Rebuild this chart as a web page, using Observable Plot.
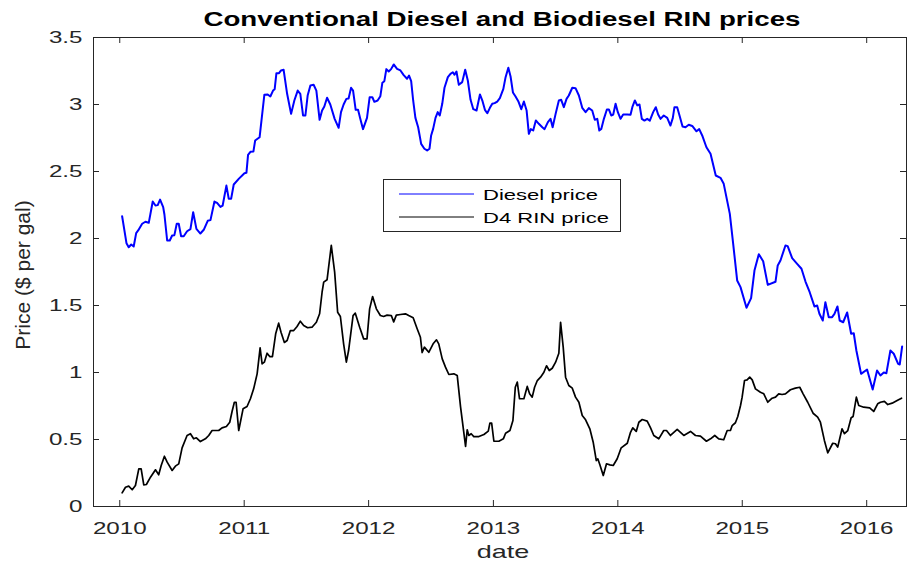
<!DOCTYPE html>
<html>
<head>
<meta charset="utf-8">
<script src="https://cdn.jsdelivr.net/npm/d3@7"></script>
<script src="https://cdn.jsdelivr.net/npm/@observablehq/plot@0.6"></script>
<style>
  html, body { margin: 0; padding: 0; background: #fff; }
  svg { display: block; }
</style>
</head>
<body>
<div id="chart"></div>
<script>
// ---- Data ----
const titleText = "Conventional Diesel and Biodiesel RIN prices";
const xLabel = "date";
const yLabel = "Price ($ per gal)";
const seriesNames = ["Diesel price", "D4 RIN price"];
const yearTicks = [2010, 2011, 2012, 2013, 2014, 2015, 2016];
const priceTicks = [0, 0.5, 1, 1.5, 2, 2.5, 3, 3.5];
const xDomainYears = [2009.789, 2016.319];

const dieselYear = [2010.019,2010.054,2010.072,2010.092,2010.112,2010.132,2010.148,2010.180,2010.206,2010.233,2010.265,2010.287,2010.305,2010.324,2010.349,2010.359,2010.381,2010.402,2010.421,2010.439,2010.458,2010.474,2010.493,2010.514,2010.541,2010.568,2010.590,2010.616,2010.648,2010.675,2010.707,2010.729,2010.761,2010.782,2010.809,2010.827,2010.857,2010.876,2010.895,2010.916,2010.956,2011.002,2011.018,2011.031,2011.050,2011.074,2011.088,2011.124,2011.162,2011.189,2011.210,2011.232,2011.245,2011.259,2011.280,2011.296,2011.317,2011.345,2011.377,2011.403,2011.430,2011.451,2011.473,2011.492,2011.510,2011.532,2011.558,2011.580,2011.606,2011.626,2011.644,2011.666,2011.692,2011.727,2011.759,2011.778,2011.799,2011.821,2011.839,2011.859,2011.875,2011.896,2011.915,2011.933,2011.955,2011.987,2012.008,2012.030,2012.046,2012.072,2012.094,2012.110,2012.126,2012.142,2012.161,2012.180,2012.201,2012.228,2012.255,2012.281,2012.308,2012.324,2012.341,2012.357,2012.375,2012.397,2012.421,2012.447,2012.469,2012.488,2012.501,2012.517,2012.536,2012.554,2012.570,2012.590,2012.608,2012.635,2012.656,2012.675,2012.688,2012.704,2012.723,2012.750,2012.774,2012.795,2012.817,2012.839,2012.865,2012.892,2012.913,2012.932,2012.951,2012.972,2012.991,2013.010,2013.031,2013.052,2013.080,2013.098,2013.120,2013.138,2013.157,2013.178,2013.200,2013.224,2013.245,2013.267,2013.285,2013.301,2013.320,2013.341,2013.365,2013.393,2013.411,2013.438,2013.459,2013.476,2013.500,2013.526,2013.545,2013.566,2013.588,2013.606,2013.634,2013.660,2013.687,2013.714,2013.741,2013.767,2013.794,2013.815,2013.835,2013.851,2013.867,2013.888,2013.912,2013.928,2013.947,2013.963,2013.982,2014.000,2014.022,2014.043,2014.076,2014.102,2014.118,2014.137,2014.156,2014.174,2014.193,2014.214,2014.236,2014.257,2014.284,2014.305,2014.324,2014.343,2014.369,2014.397,2014.423,2014.442,2014.455,2014.477,2014.498,2014.520,2014.544,2014.570,2014.598,2014.632,2014.654,2014.678,2014.712,2014.745,2014.787,2014.825,2014.851,2014.900,2014.927,2014.959,2014.986,2015.034,2015.071,2015.098,2015.133,2015.168,2015.205,2015.267,2015.285,2015.307,2015.347,2015.365,2015.401,2015.441,2015.476,2015.508,2015.542,2015.580,2015.602,2015.620,2015.647,2015.668,2015.695,2015.722,2015.741,2015.765,2015.783,2015.811,2015.843,2015.875,2015.896,2015.917,2015.955,2016.003,2016.048,2016.083,2016.110,2016.137,2016.158,2016.190,2016.217,2016.252,2016.265,2016.284];
const dieselPrice = [2.166,1.965,1.935,1.955,1.94,2.04,2.06,2.11,2.125,2.117,2.276,2.246,2.249,2.29,2.234,2.179,1.985,1.985,2.022,2.025,2.11,2.11,2.017,2.017,2.054,2.07,2.196,2.072,2.037,2.065,2.132,2.137,2.276,2.266,2.236,2.246,2.395,2.296,2.296,2.403,2.445,2.487,2.49,2.624,2.647,2.649,2.731,2.756,3.072,3.075,3.06,3.104,3.114,3.234,3.234,3.254,3.259,3.08,2.93,3.03,3.104,3.08,2.918,2.918,3.067,3.142,3.147,3.104,2.886,2.955,2.985,3.05,3.0,2.893,2.826,2.943,3.0,3.042,3.045,3.125,3.104,2.96,2.96,2.893,2.816,2.9,3.054,3.054,3.02,3.03,3.062,3.162,3.174,3.264,3.246,3.264,3.299,3.266,3.254,3.219,3.192,3.216,3.174,3.03,2.9,2.83,2.706,2.67,2.657,2.67,2.769,2.818,2.9,2.943,2.918,3.005,3.125,3.204,3.229,3.241,3.222,3.246,3.147,3.167,3.259,3.179,3.035,2.965,2.955,3.075,3.025,2.96,2.935,2.975,3.005,3.01,3.022,3.047,3.117,3.204,3.274,3.209,3.09,3.06,3.025,2.965,3.022,2.955,2.781,2.816,2.806,2.881,2.856,2.83,2.816,2.868,2.893,2.83,2.93,3.03,3.035,2.98,3.042,3.067,3.125,3.122,3.067,2.975,2.943,2.973,2.955,2.886,2.893,2.806,2.818,2.893,2.963,2.963,2.918,2.925,3.005,2.943,2.893,2.925,2.925,2.923,2.985,3.03,2.993,3.0,2.893,2.88,2.893,2.88,2.943,2.98,2.925,2.893,2.918,2.9,2.843,2.9,2.98,2.98,2.91,2.836,2.83,2.849,2.84,2.8,2.816,2.769,2.681,2.632,2.47,2.453,2.408,2.184,1.96,1.687,1.637,1.483,1.555,1.761,1.883,1.83,1.654,1.677,1.799,1.836,1.948,1.943,1.853,1.811,1.774,1.679,1.599,1.493,1.5,1.438,1.388,1.525,1.413,1.413,1.438,1.493,1.388,1.375,1.448,1.289,1.293,1.164,0.99,1.022,0.873,1.015,0.978,1.0,0.995,1.164,1.14,1.065,1.06,1.194];

const rinYear = [2010.019,2010.046,2010.072,2010.100,2010.126,2010.153,2010.172,2010.193,2010.214,2010.247,2010.287,2010.313,2010.333,2010.359,2010.381,2010.421,2010.447,2010.474,2010.501,2010.541,2010.568,2010.594,2010.616,2010.648,2010.688,2010.715,2010.742,2010.795,2010.822,2010.857,2010.884,2010.903,2010.921,2010.935,2010.956,2010.991,2011.023,2011.050,2011.076,2011.104,2011.128,2011.144,2011.162,2011.184,2011.205,2011.227,2011.253,2011.277,2011.296,2011.323,2011.345,2011.371,2011.398,2011.425,2011.451,2011.478,2011.510,2011.545,2011.580,2011.606,2011.626,2011.639,2011.666,2011.700,2011.727,2011.751,2011.773,2011.799,2011.821,2011.839,2011.875,2011.893,2011.928,2011.960,2011.987,2012.008,2012.032,2012.062,2012.094,2012.120,2012.148,2012.182,2012.201,2012.222,2012.255,2012.295,2012.321,2012.357,2012.389,2012.415,2012.429,2012.447,2012.482,2012.517,2012.544,2012.562,2012.590,2012.616,2012.643,2012.683,2012.710,2012.737,2012.777,2012.790,2012.803,2012.822,2012.843,2012.884,2012.924,2012.959,2012.972,2012.986,2013.004,2013.044,2013.080,2013.098,2013.133,2013.157,2013.176,2013.192,2013.210,2013.245,2013.272,2013.291,2013.312,2013.331,2013.353,2013.379,2013.406,2013.427,2013.449,2013.473,2013.500,2013.526,2013.540,2013.561,2013.580,2013.606,2013.634,2013.660,2013.687,2013.714,2013.741,2013.775,2013.802,2013.827,2013.839,2013.855,2013.883,2013.909,2013.936,2013.963,2013.995,2014.027,2014.076,2014.102,2014.120,2014.148,2014.169,2014.196,2014.236,2014.263,2014.289,2014.329,2014.369,2014.391,2014.423,2014.477,2014.530,2014.584,2014.624,2014.664,2014.712,2014.745,2014.779,2014.811,2014.851,2014.879,2014.905,2014.919,2014.945,2014.964,2014.986,2014.999,2015.018,2015.039,2015.060,2015.080,2015.106,2015.146,2015.173,2015.205,2015.240,2015.267,2015.293,2015.320,2015.347,2015.387,2015.427,2015.462,2015.489,2015.526,2015.569,2015.606,2015.628,2015.660,2015.687,2015.727,2015.749,2015.767,2015.802,2015.821,2015.848,2015.875,2015.891,2015.917,2015.936,2015.976,2016.024,2016.056,2016.088,2016.110,2016.142,2016.169,2016.204,2016.244,2016.279];
const rinPrice = [0.102,0.144,0.152,0.125,0.157,0.281,0.281,0.162,0.164,0.219,0.274,0.237,0.306,0.375,0.331,0.269,0.301,0.318,0.438,0.53,0.543,0.505,0.513,0.485,0.505,0.53,0.567,0.567,0.587,0.597,0.629,0.711,0.778,0.778,0.567,0.729,0.746,0.804,0.878,0.99,1.184,1.065,1.077,1.144,1.119,1.119,1.289,1.368,1.301,1.224,1.239,1.313,1.313,1.343,1.383,1.351,1.334,1.338,1.375,1.438,1.599,1.674,1.692,1.948,1.749,1.45,1.418,1.214,1.077,1.164,1.425,1.443,1.338,1.251,1.251,1.475,1.567,1.475,1.425,1.418,1.428,1.425,1.378,1.428,1.433,1.438,1.425,1.408,1.326,1.263,1.149,1.189,1.151,1.214,1.244,1.214,1.102,1.04,0.985,0.99,0.978,0.741,0.448,0.572,0.53,0.543,0.522,0.522,0.537,0.562,0.622,0.622,0.487,0.487,0.505,0.547,0.567,0.642,0.89,0.928,0.804,0.804,0.896,0.841,0.816,0.89,0.94,0.965,1.002,1.05,1.015,1.032,1.077,1.144,1.375,1.189,0.965,0.903,0.883,0.816,0.778,0.679,0.647,0.58,0.48,0.343,0.356,0.313,0.231,0.319,0.311,0.306,0.356,0.438,0.472,0.554,0.587,0.56,0.629,0.649,0.637,0.587,0.53,0.505,0.567,0.567,0.53,0.575,0.53,0.56,0.53,0.525,0.487,0.505,0.53,0.505,0.498,0.567,0.567,0.604,0.625,0.672,0.754,0.816,0.94,0.945,0.965,0.945,0.878,0.853,0.841,0.778,0.808,0.816,0.841,0.836,0.841,0.871,0.883,0.89,0.841,0.778,0.696,0.667,0.629,0.493,0.4,0.472,0.468,0.443,0.58,0.543,0.567,0.662,0.672,0.816,0.754,0.741,0.736,0.709,0.766,0.778,0.784,0.761,0.771,0.791,0.808];

// ---- helpers ----
function yearToDate(t) {
  const y = Math.floor(t);
  const s = Date.UTC(y, 0, 1), e = Date.UTC(y + 1, 0, 1);
  return new Date(s + (t - y) * (e - s));
}
const diesel = dieselYear.map((t, i) => ({date: yearToDate(t), price: dieselPrice[i]}));
const rin = rinYear.map((t, i) => ({date: yearToDate(t), price: rinPrice[i]}));
const yearDates = yearTicks.map(y => yearToDate(y));

const W = 907, H = 563, mL = 93, mR = 1, mT = 37, mB = 57;
const frameW = W - mL - mR, frameH = H - mT - mB;
const TICK = 6;
const axisColor = "#262626";
const FONT = "'Liberation Sans', Arial, Helvetica, sans-serif";

const svg = Plot.plot({
  width: W, height: H,
  marginLeft: mL, marginRight: mR, marginTop: mT, marginBottom: mB,
  style: {fontFamily: FONT, background: "#fff", color: "#262626", overflow: "visible"},
  x: {type: "utc", domain: xDomainYears.map(yearToDate)},
  y: {domain: [0, 3.5]},
  marks: [
    Plot.frame({stroke: axisColor, strokeWidth: 1}),
    Plot.tickX(yearDates, {x: d => d, insetTop: frameH - TICK, stroke: axisColor}),
    Plot.tickX(yearDates, {x: d => d, insetBottom: frameH - TICK, stroke: axisColor}),
    Plot.tickY(priceTicks, {y: d => d, insetRight: frameW - TICK, stroke: axisColor}),
    Plot.tickY(priceTicks, {y: d => d, insetLeft: frameW - TICK, stroke: axisColor}),
    Plot.axisX(yearDates, {tickSize: 0, tickPadding: 15, fontSize: 17, tickFormat: d => String(d.getUTCFullYear()), label: null, fill: "#262626"}),
    Plot.axisY(priceTicks, {tickSize: 0, tickPadding: 11, fontSize: 17, tickFormat: d => String(d), label: null, fill: "#262626"}),
    Plot.line(diesel, {x: "date", y: "price", stroke: "#0000ff", strokeWidth: 2}),
    Plot.line(rin, {x: "date", y: "price", stroke: "#000000", strokeWidth: 1.7})
  ]
});

document.getElementById("chart").appendChild(svg);

const root = d3.select(svg);
// title
root.append("text").attr("class", "stretch")
  .attr("x", 502).attr("y", 26).attr("text-anchor", "middle")
  .attr("font-family", FONT).attr("font-weight", "bold").attr("font-size", 19.5)
  .attr("fill", "#000").text(titleText);
// x label
root.append("text").attr("class", "stretch")
  .attr("x", 503).attr("y", 558).attr("text-anchor", "middle")
  .attr("font-family", FONT).attr("font-size", 19)
  .attr("fill", "#262626").text(xLabel);
// y label (rotated, not stretched)
root.append("text")
  .attr("transform", "translate(29.5,275) rotate(-90)").attr("text-anchor", "middle")
  .attr("font-family", FONT).attr("font-size", 21)
  .attr("fill", "#262626").text(yLabel);

// legend
const lg = root.append("g");
lg.append("rect").attr("x", 383.5).attr("y", 179.5).attr("width", 237).attr("height", 52)
  .attr("fill", "#fff").attr("stroke", axisColor).attr("stroke-width", 1);
const legendColors = ["#0000ff", "#000000"];
const rowY = [194, 217];
seriesNames.forEach((name, i) => {
  lg.append("line").attr("x1", 399).attr("x2", 474).attr("y1", rowY[i]).attr("y2", rowY[i])
    .attr("stroke", legendColors[i]).attr("stroke-width", 1);
  lg.append("text").attr("class", "stretch")
    .attr("x", 483).attr("y", rowY[i] + 6).attr("text-anchor", "start")
    .attr("font-family", FONT).attr("font-size", 15.5)
    .attr("fill", "#000").text(name);
});

// horizontal stretch of horizontal texts to match the reference's wide glyphs
const K = 1.42;
svg.querySelectorAll("g[aria-label$='tick label'] text, text.stretch").forEach(t => {
  const len = t.getComputedTextLength();
  if (len > 0) {
    t.setAttribute("textLength", (len * K).toFixed(2));
    t.setAttribute("lengthAdjust", "spacingAndGlyphs");
  }
});
</script>
</body>
</html>
